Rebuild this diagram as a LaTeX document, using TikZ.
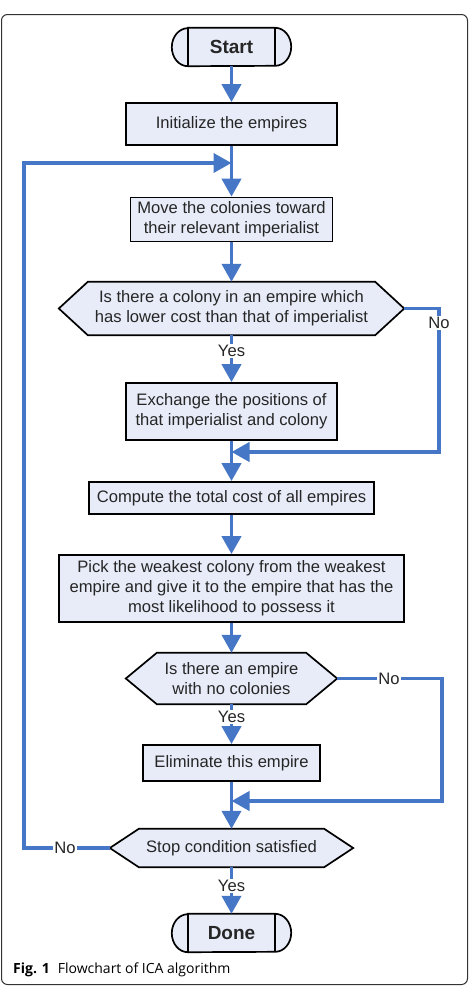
\documentclass[tikz,border=0pt]{standalone}
\usepackage{fontspec}
\setmainfont{Liberation Sans}
\newfontfamily\capfont{Open Sans}
\usetikzlibrary{arrows.meta,backgrounds,calc}
\definecolor{flowblue}{HTML}{4677C6}
\definecolor{boxfill}{HTML}{E8ECF8}
\definecolor{framegray}{HTML}{333333}
\definecolor{txtgray}{HTML}{262626}
\begin{document}
\begin{tikzpicture}[x=1pt,y=-1pt,
  procbox/.style={draw=black, line width=1.7pt, fill=boxfill, align=center, inner sep=0pt, text=txtgray, font=\fontsize{16.6}{20}\selectfont},
  hexbox/.style={align=center, inner sep=0pt, text=txtgray, font=\fontsize{16.6}{20}\selectfont},
  shapeline/.style={draw=black, line width=1.7pt, fill=boxfill},
  termbox/.style={inner sep=0pt, text=txtgray, font=\fontsize{19}{22}\selectfont\bfseries},
  flow/.style={draw=flowblue, line width=3.9pt, -{Triangle[length=18pt,width=19pt]}},
  flowline/.style={draw=flowblue, line width=3.9pt},
  lbl/.style={fill=white, inner sep=1pt, text=txtgray, font=\fontsize{16.6}{20}\selectfont}
]
\useasboundingbox (0,0) rectangle (471,986);
\draw[framegray, line width=1pt, rounded corners=6pt] (1.5,14.5) rectangle (467.5,984.5);

% nodes
\node[termbox, minimum width=87pt, minimum height=38pt] (start) at (231.5,47) {Start};
\node[procbox, minimum width=211pt, minimum height=42pt] (init) at (231.5,124) {Initialize the empires};
\node[procbox, minimum width=202pt, minimum height=44pt] (move) at (231.5,219.5) {Move the colonies toward\\their relevant imperialist};
\node[hexbox, minimum width=345pt, minimum height=53pt] (hex1) at (231.5,308.5) {Is there a colony in an empire which\\has lower cost than that of imperialist};
\node[procbox, minimum width=211pt, minimum height=57pt] (exch) at (231.5,411.5) {Exchange the positions of\\that imperialist and colony};
\node[procbox, minimum width=285pt, minimum height=32pt] (comp) at (231.5,498) {Compute the total cost of all empires};
\node[procbox, minimum width=345pt, minimum height=67pt] (pick) at (231.5,588.5) {Pick the weakest colony from the weakest\\empire and give it to the empire that has the\\most likelihood to possess it};
\node[hexbox, minimum width=211pt, minimum height=51pt] (hex2) at (231.5,678.5) {Is there an empire\\with no colonies};
\node[procbox, minimum width=177pt, minimum height=36pt] (elim) at (231.5,763) {Eliminate this empire};
\node[hexbox, minimum width=243pt, minimum height=38pt] (hex3) at (231.5,848) {Stop condition satisfied};
\node[termbox, minimum width=87pt, minimum height=38pt] (done) at (231.5,933) {Done};

% shape outlines behind the texts
\begin{scope}[on background layer]
  \foreach \t in {start,done}{
    \draw[shapeline] (\t.north west) -- (\t.north east)
      arc[start angle=90, end angle=-90, x radius=16pt, y radius=19pt]
      -- (\t.south west)
      arc[start angle=270, end angle=90, x radius=16pt, y radius=19pt] -- cycle;
    \draw[black, line width=1.7pt] (\t.north west) -- (\t.south west);
    \draw[black, line width=1.7pt] (\t.north east) -- (\t.south east);
  }
  \foreach \h/\d in {hex1/29,hex2/31,hex3/29}{
    \draw[shapeline, line join=miter] (\h.west) -- ($(\h.north west)+(\d,0)$) -- ($(\h.north east)+(-\d,0)$)
      -- (\h.east) -- ($(\h.south east)+(-\d,0)$) -- ($(\h.south west)+(\d,0)$) -- cycle;
  }
\end{scope}

% junction coordinates
\coordinate (j1) at (231.5,163);
\coordinate (j2) at (231.5,452);
\coordinate (j3) at (231.5,801);
\coordinate (r1) at (439,308.5);
\coordinate (r2) at (442,678.5);
\coordinate (l3) at (24,848);

% main flow
\draw[flow] (start.south) -- (init.north);
\draw[flow] (init.south) -- (move.north);
\draw[flow] (move.south) -- (hex1.north);
\draw[flow] (hex1.south) -- (exch.north);
\draw[flow] (exch.south) -- (comp.north);
\draw[flow] (comp.south) -- (pick.north);
\draw[flow] (pick.south) -- (hex2.north);
\draw[flow] (hex2.south) -- (elim.north);
\draw[flow] (elim.south) -- (hex3.north);
\draw[flow] (hex3.south) -- (done.north);

% side branches
\draw[flow] (hex1.east) -- (r1) |- (j2);
\draw[flow] (hex2.east) -- (r2) |- (j3);
\draw[flow] (hex3.west) -- (l3) |- (j1);

% labels
\node[lbl] (y1) at (231.5,351) {Yes};
\node[lbl] (y2) at (231.5,717) {Yes};
\node[lbl] (y3) at (231.5,886) {Yes};
\node[lbl] (n1) at (439,323) {No};
\node[lbl] (n2) at (389,678.5) {No};
\node[lbl] (n3) at (65,848) {No};

% caption
\node[anchor=base west, inner sep=0pt, font=\capfont\fontsize{14}{16}\selectfont] (cap) at (13,973) {\textbf{Fig. 1}\hspace{8pt}Flowchart of ICA algorithm};
\end{tikzpicture}
\end{document}
